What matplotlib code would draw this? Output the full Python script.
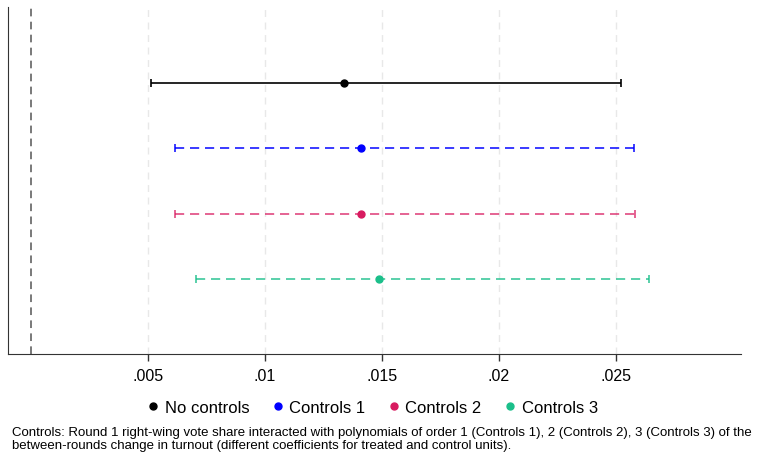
import matplotlib.pyplot as plt
from matplotlib.lines import Line2D

plt.rcParams["font.family"] = ["Liberation Sans", "DejaVu Sans"]

labels = ["No controls", "Controls 1", "Controls 2", "Controls 3"]
coefs = [0.01339, 0.01412, 0.01413, 0.01490]
ci_low = [0.00514, 0.00618, 0.00618, 0.00708]
ci_high = [0.02525, 0.02580, 0.02585, 0.02642]
colors = ["#000000", "#0000ff", "#d81b60", "#1bbf8a"]
line_alpha = [1.0, 0.9, 0.8, 0.85]
rows = [4, 3, 2, 1]

xticks = [0.005, 0.01, 0.015, 0.02, 0.025]
xtick_labels = [".005", ".01", ".015", ".02", ".025"]

fig = plt.figure(figsize=(7.59, 4.6), dpi=100)
ax = fig.add_axes([0.0105, 0.228, 0.9655, 0.755])

for t in xticks:
    ax.axvline(t, color="#e8e8e8", lw=1.0, ls=(0, (5, 4)), zorder=0)
ax.axvline(0, color="#555555", lw=1.1, ls=(0, (5, 3.5)), zorder=1)

for i in range(len(labels)):
    err = [[coefs[i] - ci_low[i]], [ci_high[i] - coefs[i]]]
    eb = ax.errorbar([coefs[i]], [rows[i]], xerr=err, fmt="o", color=colors[i],
                     ms=5, elinewidth=1.2, capsize=3, capthick=1.2, zorder=3)
    if i > 0:
        eb[2][0].set_linestyle((0, (5.5, 3.5)))
    eb[2][0].set_alpha(line_alpha[i])
    for cap in eb[1]:
        cap.set_alpha(line_alpha[i])

ax.set_xlim(-0.00097, 0.03035)
ax.set_ylim(-0.15, 5.17)
ax.set_xticks(xticks)
ax.set_xticklabels(xtick_labels, fontsize=11.5)
ax.set_yticks([])
ax.tick_params(axis="x", length=5, width=1, color="#333333", pad=5)
ax.spines["top"].set_visible(False)
ax.spines["right"].set_visible(False)
ax.spines["left"].set_color("#333333")
ax.spines["bottom"].set_color("#333333")

handles = [Line2D([], [], marker="o", ls="none", color=c, ms=5) for c in colors]
fig.legend(handles, labels, loc="center", bbox_to_anchor=(0.488, 0.113), ncol=4,
           frameon=False, fontsize=12, handletextpad=0.1, columnspacing=1.1,
           handlelength=1.2)

note = ("Controls: Round 1 right-wing vote share interacted with polynomials of order 1 (Controls 1), "
        "2 (Controls 2), 3 (Controls 3) of the\n"
        "between-rounds change in turnout (different coefficients for treated and control units).")
fig.text(0.016, 0.072, note, fontsize=9.55, va="top", ha="left", linespacing=1.1)

fig.savefig("out.png", dpi=100)
